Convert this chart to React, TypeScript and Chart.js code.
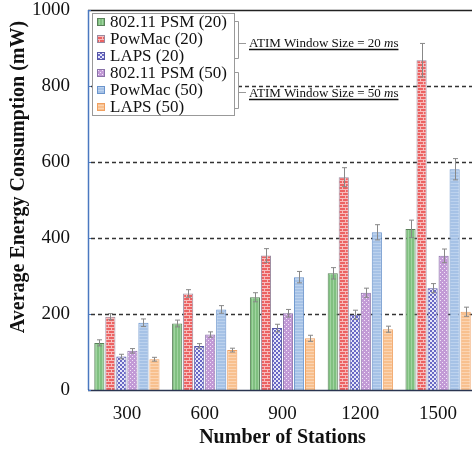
import React, { useEffect, useRef } from 'react';
import { Chart, registerables } from 'chart.js';
Chart.register(...registerables);

const categories = ['300', '600', '900', '1200', '1500'];
const seriesLabels = ['802.11 PSM (20)', 'PowMac (20)', 'LAPS (20)', '802.11 PSM (50)', 'PowMac (50)', 'LAPS (50)'];
const psm20 = [124, 175, 244, 307, 424];
const powmac20 = [193, 254, 354, 560, 868];
const laps20 = [88, 116, 163, 198, 268];
const psm50 = [103, 146, 202, 256, 353];
const powmac50 = [177, 212, 297, 415, 581];
const laps50 = [81, 105, 136, 160, 206];
const psm20Err = [8, 9, 12, 15, 23];
const powmac20Err = [8, 10, 18, 25, 44];
const laps20Err = [6, 6, 10, 12, 12];
const psm50Err = [6, 7, 10, 12, 18];
const powmac50Err = [10, 10, 15, 20, 28];
const laps50Err = [5, 5, 8, 8, 12];
const yTickValues = [0, 200, 400, 600, 800, 1000];
const xTitle = 'Number of Stations';
const yTitle = 'Average Energy Consumption (mW)';
const annotations = [
  { text: 'ATIM Window Size = 20 ', unit: 'm', unit2: 's' },
  { text: 'ATIM Window Size = 50 ', unit: 'm', unit2: 's' },
];

const SERIF = '"Liberation Serif", "DejaVu Serif", serif';

function makePattern(w: number, h: number, draw: (c: CanvasRenderingContext2D) => void) {
  const cv = document.createElement('canvas');
  cv.width = w;
  cv.height = h;
  const c = cv.getContext('2d')!;
  draw(c);
  return c.createPattern(cv, 'repeat')!;
}

export default function App() {
  const ref = useRef<HTMLCanvasElement>(null);
  useEffect(() => {
    const fills = [
      makePattern(3, 1, (c) => { c.fillStyle = '#80c080'; c.fillRect(0, 0, 3, 1); c.fillStyle = '#a0d4a0'; c.fillRect(0, 0, 1, 1); }),
      makePattern(6, 6, (c) => {
        c.fillStyle = '#ec6262'; c.fillRect(0, 0, 6, 6);
        c.fillStyle = '#f7bcbc';
        c.fillRect(0, 0, 6, 1); c.fillRect(0, 1, 1, 2); c.fillRect(0, 3, 6, 1); c.fillRect(3, 4, 1, 2);
      }),
      makePattern(4, 4, (c) => { c.fillStyle = '#e6e6f8'; c.fillRect(0, 0, 4, 4); c.fillStyle = '#6868c4'; c.fillRect(0, 0, 2, 2); c.fillRect(2, 2, 2, 2); }),
      makePattern(4, 4, (c) => { c.fillStyle = '#c29ad6'; c.fillRect(0, 0, 4, 4); c.fillStyle = '#f2e6f8'; c.fillRect(0, 0, 1, 1); c.fillRect(2, 2, 1, 1); }),
      makePattern(1, 3, (c) => { c.fillStyle = '#a6c2e6'; c.fillRect(0, 0, 1, 3); c.fillStyle = '#bcd2ee'; c.fillRect(0, 0, 1, 1); }),
      makePattern(1, 3, (c) => { c.fillStyle = '#f8c08e'; c.fillRect(0, 0, 1, 3); c.fillStyle = '#fbd4b2'; c.fillRect(0, 0, 1, 1); }),
    ];
    const borders = ['#5a805a', '#9a8aa0', '#5656a6', '#8a72a8', '#6a94cc', '#f0a060'];
    const values = [psm20, powmac20, laps20, psm50, powmac50, laps50];
    const errs = [psm20Err, powmac20Err, laps20Err, psm50Err, powmac50Err, laps50Err];

    const decor = {
      id: 'decor',
      beforeDatasetsDraw(chart: any) {
        const { ctx, chartArea: a, scales } = chart;
        const y = scales.y;
        ctx.save();
        ctx.strokeStyle = '#333';
        ctx.lineWidth = 1.5;
        ctx.setLineDash([4, 3]);
        for (const v of yTickValues) {
          if (v === 0 || v === 1000) continue;
          const py = Math.round(y.getPixelForValue(v)) + 0.5;
          ctx.beginPath();
          ctx.moveTo(a.left + 3, py);
          ctx.lineTo(a.right, py);
          ctx.stroke();
        }
        ctx.setLineDash([]);
        ctx.strokeStyle = '#222';
        ctx.lineWidth = 1.5;
        const ty = Math.round(y.getPixelForValue(1000)) + 0.5;
        ctx.beginPath();
        ctx.moveTo(a.left, ty);
        ctx.lineTo(a.right, ty);
        ctx.stroke();
        ctx.restore();
      },
      afterDatasetsDraw(chart: any) {
        const { ctx, chartArea: a, scales } = chart;
        const y = scales.y;
        ctx.save();
        ctx.strokeStyle = '#888';
        ctx.lineWidth = 1;
        values.forEach((vals, i) => {
          const meta = chart.getDatasetMeta(i);
          vals.forEach((v, j) => {
            const el = meta.data[j];
            const x = Math.round(el.x) + 0.5;
            const top = y.getPixelForValue(v + errs[i][j]);
            const bot = y.getPixelForValue(v - errs[i][j]);
            ctx.beginPath();
            ctx.moveTo(x, top); ctx.lineTo(x, bot);
            ctx.moveTo(x - 2.5, top); ctx.lineTo(x + 2.5, top);
            ctx.moveTo(x - 2.5, bot); ctx.lineTo(x + 2.5, bot);
            ctx.stroke();
          });
        });
        ctx.strokeStyle = '#4a78c0';
        ctx.lineWidth = 1.5;
        ctx.beginPath();
        ctx.moveTo(a.left + 0.5, a.top);
        ctx.lineTo(a.left + 0.5, a.bottom);
        ctx.stroke();
        ctx.strokeStyle = '#2a3550';
        ctx.beginPath();
        ctx.moveTo(a.left, a.bottom + 0.5);
        ctx.lineTo(a.right, a.bottom + 0.5);
        ctx.stroke();
        ctx.strokeStyle = '#4a78c0';
        ctx.lineWidth = 1;
        for (const v of yTickValues) {
          const py = Math.round(y.getPixelForValue(v)) + 0.5;
          ctx.beginPath();
          ctx.moveTo(a.left, py);
          ctx.lineTo(a.left + 3, py);
          ctx.stroke();
        }

        const lx = 92.5, ly = 13.5, lw = 142, lh = 102;
        ctx.fillStyle = '#fff';
        ctx.fillRect(lx, ly, lw, lh);
        ctx.strokeStyle = '#999';
        ctx.lineWidth = 1;
        ctx.strokeRect(lx, ly, lw, lh);
        ctx.font = `17px ${SERIF}`;
        ctx.textBaseline = 'middle';
        ctx.textAlign = 'left';
        seriesLabels.forEach((lab, i) => {
          const cy = 22 + i * 17;
          ctx.fillStyle = fills[i];
          ctx.fillRect(97, cy - 3.5, 7, 7);
          ctx.strokeStyle = borders[i];
          ctx.strokeRect(97.5, cy - 3.5, 7, 7);
          ctx.fillStyle = '#111';
          ctx.fillText(lab, 110, cy + 1);
        });

        ctx.strokeStyle = '#999';
        ctx.lineWidth = 1;
        const brackets = [[21, 58, 43], [72, 108, 92]];
        brackets.forEach(([t, b, m]) => {
          ctx.beginPath();
          ctx.moveTo(234, t + 0.5); ctx.lineTo(238.5, t + 0.5); ctx.lineTo(238.5, b + 0.5); ctx.lineTo(234, b + 0.5);
          ctx.moveTo(238.5, m + 0.5); ctx.lineTo(246, m + 0.5);
          ctx.stroke();
        });

        const baselines = [47, 97];
        annotations.forEach((an, i) => {
          const bl = baselines[i];
          ctx.fillStyle = '#111';
          ctx.textBaseline = 'alphabetic';
          ctx.font = `13px ${SERIF}`;
          let x = 249;
          ctx.fillText(an.text, x, bl);
          x += ctx.measureText(an.text).width;
          ctx.font = `italic 13px ${SERIF}`;
          ctx.fillText(an.unit, x, bl);
          x += ctx.measureText(an.unit).width;
          ctx.font = `13px ${SERIF}`;
          ctx.fillText(an.unit2, x, bl);
          x += ctx.measureText(an.unit2).width;
          ctx.strokeStyle = '#111';
          ctx.lineWidth = 1.5;
          ctx.beginPath();
          ctx.moveTo(249, bl + 2.5);
          ctx.lineTo(x, bl + 2.5);
          ctx.stroke();
        });

        ctx.fillStyle = '#111';
        ctx.font = `bold 20px ${SERIF}`;
        ctx.textAlign = 'center';
        ctx.textBaseline = 'middle';
        ctx.fillText(xTitle, (a.left + a.right) / 2, 438);
        ctx.save();
        ctx.translate(19, 177);
        ctx.rotate(-Math.PI / 2);
        ctx.fillText(yTitle, 0, 0);
        ctx.restore();
        ctx.restore();
      },
    };

    const chart = new Chart(ref.current!, {
      type: 'bar',
      data: {
        labels: categories,
        datasets: values.map((vals, i) => ({
          label: seriesLabels[i],
          data: vals,
          backgroundColor: fills[i],
          borderColor: borders[i],
          borderWidth: 1,
          categoryPercentage: 0.85,
          barPercentage: 0.92,
        })),
      },
      options: {
        responsive: false,
        animation: false,
        devicePixelRatio: 1,
        layout: { padding: { left: 0, top: 10, right: 3, bottom: 0 } },
        plugins: { legend: { display: false }, tooltip: { enabled: false } },
        scales: {
          x: {
            grid: { display: false, drawTicks: false },
            border: { display: false },
            ticks: { font: { family: SERIF, size: 19 }, color: '#111', padding: 13 },
            afterFit: (s: any) => { s.height = 68; s.paddingLeft = 0; s.paddingRight = 0; },
          },
          y: {
            min: 0,
            max: 1000,
            grid: { display: false, drawTicks: false },
            border: { display: false },
            ticks: {
              stepSize: 200,
              font: { family: SERIF, size: 19 },
              color: '#111',
              padding: 18,
              callback: (v: any) => (yTickValues.includes(v) ? String(v) : ''),
            },
            afterFit: (s: any) => { s.width = 88; s.paddingTop = 0; s.paddingBottom = 0; },
          },
        },
      },
      plugins: [decor],
    });
    return () => chart.destroy();
  }, []);

  return (
    <div style={{ position: 'absolute', left: 0, top: 0, width: 472, height: 458, overflow: 'hidden', background: '#fff' }}>
      <canvas ref={ref} width={480} height={458} style={{ width: 480, height: 458, display: 'block' }} />
    </div>
  );
}
